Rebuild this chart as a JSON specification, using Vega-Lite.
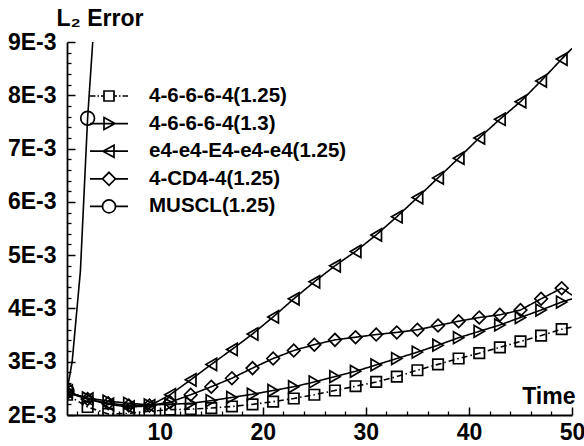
{
  "$schema": "https://vega.github.io/schema/vega-lite/v6.json",
  "width": 505,
  "height": 373,
  "autosize": {"type": "none"},
  "padding": {"left": 67, "top": 42, "right": 12, "bottom": 31},
  "background": "white",
  "config": {"view": {"stroke": null}, "font": "Liberation Sans"},
  "datasets": {
    "err": [
      {"series": "4-6-6-6-4(1.25)", "t": 1, "err": 0.00238},
      {"series": "4-6-6-6-4(1.25)", "t": 3, "err": 0.00215},
      {"series": "4-6-6-6-4(1.25)", "t": 5, "err": 0.00202},
      {"series": "4-6-6-6-4(1.25)", "t": 7, "err": 0.00203},
      {"series": "4-6-6-6-4(1.25)", "t": 9, "err": 0.00207},
      {"series": "4-6-6-6-4(1.25)", "t": 11, "err": 0.0021},
      {"series": "4-6-6-6-4(1.25)", "t": 13, "err": 0.00211},
      {"series": "4-6-6-6-4(1.25)", "t": 15, "err": 0.00213},
      {"series": "4-6-6-6-4(1.25)", "t": 17, "err": 0.00216},
      {"series": "4-6-6-6-4(1.25)", "t": 19, "err": 0.0022},
      {"series": "4-6-6-6-4(1.25)", "t": 21, "err": 0.00225},
      {"series": "4-6-6-6-4(1.25)", "t": 23, "err": 0.00231},
      {"series": "4-6-6-6-4(1.25)", "t": 25, "err": 0.00238},
      {"series": "4-6-6-6-4(1.25)", "t": 27, "err": 0.00246},
      {"series": "4-6-6-6-4(1.25)", "t": 29, "err": 0.00254},
      {"series": "4-6-6-6-4(1.25)", "t": 31, "err": 0.00262},
      {"series": "4-6-6-6-4(1.25)", "t": 33, "err": 0.00272},
      {"series": "4-6-6-6-4(1.25)", "t": 35, "err": 0.00284},
      {"series": "4-6-6-6-4(1.25)", "t": 37, "err": 0.00295},
      {"series": "4-6-6-6-4(1.25)", "t": 39, "err": 0.00306},
      {"series": "4-6-6-6-4(1.25)", "t": 41, "err": 0.00316},
      {"series": "4-6-6-6-4(1.25)", "t": 43, "err": 0.00327},
      {"series": "4-6-6-6-4(1.25)", "t": 45, "err": 0.00338},
      {"series": "4-6-6-6-4(1.25)", "t": 47, "err": 0.00349},
      {"series": "4-6-6-6-4(1.25)", "t": 49, "err": 0.00361},
      {"series": "4-6-6-6-4(1.25)", "t": 50, "err": 0.00365},
      {"series": "4-6-6-6-4(1.3)", "t": 1, "err": 0.00242},
      {"series": "4-6-6-6-4(1.3)", "t": 3, "err": 0.00232},
      {"series": "4-6-6-6-4(1.3)", "t": 5, "err": 0.00226},
      {"series": "4-6-6-6-4(1.3)", "t": 7, "err": 0.00222},
      {"series": "4-6-6-6-4(1.3)", "t": 9, "err": 0.00219},
      {"series": "4-6-6-6-4(1.3)", "t": 11, "err": 0.0022},
      {"series": "4-6-6-6-4(1.3)", "t": 13, "err": 0.00222},
      {"series": "4-6-6-6-4(1.3)", "t": 15, "err": 0.00227},
      {"series": "4-6-6-6-4(1.3)", "t": 17, "err": 0.00233},
      {"series": "4-6-6-6-4(1.3)", "t": 19, "err": 0.00239},
      {"series": "4-6-6-6-4(1.3)", "t": 21, "err": 0.00246},
      {"series": "4-6-6-6-4(1.3)", "t": 23, "err": 0.00253},
      {"series": "4-6-6-6-4(1.3)", "t": 25, "err": 0.00262},
      {"series": "4-6-6-6-4(1.3)", "t": 27, "err": 0.00272},
      {"series": "4-6-6-6-4(1.3)", "t": 29, "err": 0.00282},
      {"series": "4-6-6-6-4(1.3)", "t": 31, "err": 0.00294},
      {"series": "4-6-6-6-4(1.3)", "t": 33, "err": 0.00306},
      {"series": "4-6-6-6-4(1.3)", "t": 35, "err": 0.00318},
      {"series": "4-6-6-6-4(1.3)", "t": 37, "err": 0.00331},
      {"series": "4-6-6-6-4(1.3)", "t": 39, "err": 0.00345},
      {"series": "4-6-6-6-4(1.3)", "t": 41, "err": 0.00357},
      {"series": "4-6-6-6-4(1.3)", "t": 43, "err": 0.00369},
      {"series": "4-6-6-6-4(1.3)", "t": 45, "err": 0.00383},
      {"series": "4-6-6-6-4(1.3)", "t": 47, "err": 0.00397},
      {"series": "4-6-6-6-4(1.3)", "t": 49, "err": 0.00412},
      {"series": "4-6-6-6-4(1.3)", "t": 50, "err": 0.00418},
      {"series": "e4-e4-E4-e4-e4(1.25)", "t": 1, "err": 0.00245},
      {"series": "e4-e4-E4-e4-e4(1.25)", "t": 3, "err": 0.0023},
      {"series": "e4-e4-E4-e4-e4(1.25)", "t": 5, "err": 0.0022},
      {"series": "e4-e4-E4-e4-e4(1.25)", "t": 7, "err": 0.00215},
      {"series": "e4-e4-E4-e4-e4(1.25)", "t": 9, "err": 0.00217},
      {"series": "e4-e4-E4-e4-e4(1.25)", "t": 11, "err": 0.00238},
      {"series": "e4-e4-E4-e4-e4(1.25)", "t": 13, "err": 0.00266},
      {"series": "e4-e4-E4-e4-e4(1.25)", "t": 15, "err": 0.00295},
      {"series": "e4-e4-E4-e4-e4(1.25)", "t": 17, "err": 0.00323},
      {"series": "e4-e4-E4-e4-e4(1.25)", "t": 19, "err": 0.00352},
      {"series": "e4-e4-E4-e4-e4(1.25)", "t": 21, "err": 0.00384},
      {"series": "e4-e4-E4-e4-e4(1.25)", "t": 23, "err": 0.00418},
      {"series": "e4-e4-E4-e4-e4(1.25)", "t": 25, "err": 0.0045},
      {"series": "e4-e4-E4-e4-e4(1.25)", "t": 27, "err": 0.0048},
      {"series": "e4-e4-E4-e4-e4(1.25)", "t": 29, "err": 0.00507},
      {"series": "e4-e4-E4-e4-e4(1.25)", "t": 31, "err": 0.00538},
      {"series": "e4-e4-E4-e4-e4(1.25)", "t": 33, "err": 0.00572},
      {"series": "e4-e4-E4-e4-e4(1.25)", "t": 35, "err": 0.00608},
      {"series": "e4-e4-E4-e4-e4(1.25)", "t": 37, "err": 0.00645},
      {"series": "e4-e4-E4-e4-e4(1.25)", "t": 39, "err": 0.00682},
      {"series": "e4-e4-E4-e4-e4(1.25)", "t": 41, "err": 0.0072},
      {"series": "e4-e4-E4-e4-e4(1.25)", "t": 43, "err": 0.00755},
      {"series": "e4-e4-E4-e4-e4(1.25)", "t": 45, "err": 0.00788},
      {"series": "e4-e4-E4-e4-e4(1.25)", "t": 47, "err": 0.00827},
      {"series": "e4-e4-E4-e4-e4(1.25)", "t": 49, "err": 0.00868},
      {"series": "e4-e4-E4-e4-e4(1.25)", "t": 50, "err": 0.00888},
      {"series": "4-CD4-4(1.25)", "t": 1, "err": 0.00242},
      {"series": "4-CD4-4(1.25)", "t": 3, "err": 0.0023},
      {"series": "4-CD4-4(1.25)", "t": 5, "err": 0.00222},
      {"series": "4-CD4-4(1.25)", "t": 7, "err": 0.00218},
      {"series": "4-CD4-4(1.25)", "t": 9, "err": 0.00218},
      {"series": "4-CD4-4(1.25)", "t": 11, "err": 0.00224},
      {"series": "4-CD4-4(1.25)", "t": 13, "err": 0.00238},
      {"series": "4-CD4-4(1.25)", "t": 15, "err": 0.00253},
      {"series": "4-CD4-4(1.25)", "t": 17, "err": 0.00269},
      {"series": "4-CD4-4(1.25)", "t": 19, "err": 0.00288},
      {"series": "4-CD4-4(1.25)", "t": 21, "err": 0.00306},
      {"series": "4-CD4-4(1.25)", "t": 23, "err": 0.00321},
      {"series": "4-CD4-4(1.25)", "t": 25, "err": 0.00332},
      {"series": "4-CD4-4(1.25)", "t": 27, "err": 0.00341},
      {"series": "4-CD4-4(1.25)", "t": 29, "err": 0.00346},
      {"series": "4-CD4-4(1.25)", "t": 31, "err": 0.00351},
      {"series": "4-CD4-4(1.25)", "t": 33, "err": 0.00355},
      {"series": "4-CD4-4(1.25)", "t": 35, "err": 0.0036},
      {"series": "4-CD4-4(1.25)", "t": 37, "err": 0.00368},
      {"series": "4-CD4-4(1.25)", "t": 39, "err": 0.00376},
      {"series": "4-CD4-4(1.25)", "t": 41, "err": 0.00383},
      {"series": "4-CD4-4(1.25)", "t": 43, "err": 0.00388},
      {"series": "4-CD4-4(1.25)", "t": 45, "err": 0.00397},
      {"series": "4-CD4-4(1.25)", "t": 47, "err": 0.00418},
      {"series": "4-CD4-4(1.25)", "t": 49, "err": 0.00438},
      {"series": "4-CD4-4(1.25)", "t": 50, "err": 0.00425},
      {"series": "MUSCL(1.25)", "t": 1, "err": 0.00245},
      {"series": "MUSCL(1.25)", "t": 1.5, "err": 0.003},
      {"series": "MUSCL(1.25)", "t": 2.3, "err": 0.0047},
      {"series": "MUSCL(1.25)", "t": 3, "err": 0.00757},
      {"series": "MUSCL(1.25)", "t": 3.55, "err": 0.00915}
    ]
  },
  "data": {"name": "err"},
  "layer": [
    {
      "mark": {"type": "line", "stroke": "black", "strokeWidth": 1.6, "clip": true},
      "encoding": {
        "x": {"field": "t", "type": "quantitative", "scale": {"domain": [1, 50], "nice": false, "zero": false},
          "axis": {"orient": "bottom", "values": [10, 20, 30, 40, 50], "tickSize": -8, "tickWidth": 1.5, "tickColor": "black",
            "domainColor": "black", "domainWidth": 1.8, "grid": false,
            "labelFont": "Liberation Sans", "labelFontSize": 23, "labelFontWeight": "bold", "labelColor": "black", "labelPadding": 14, "labelFlush": false,
            "title": "Time", "titleFont": "Liberation Sans", "titleFontSize": 23, "titleFontWeight": "bold", "titleColor": "black",
            "titleAnchor": null, "titleAlign": "right", "titleBaseline": "alphabetic", "titleX": 508, "titleY": -12}},
        "y": {"field": "err", "type": "quantitative", "scale": {"domain": [0.002, 0.009], "nice": false, "zero": false},
          "axis": {"orient": "left", "values": [0.002, 0.003, 0.004, 0.005, 0.006, 0.007, 0.008, 0.009], "tickSize": -8, "tickWidth": 1.5, "tickColor": "black",
            "domainColor": "black", "domainWidth": 1.8, "grid": false,
            "labelExpr": "round(datum.value*1000) + 'E-3'",
            "labelFont": "Liberation Sans", "labelFontSize": 23, "labelFontWeight": "bold", "labelColor": "black", "labelPadding": 19, "labelFlush": false,
            "title": "L₂ Error", "titleFont": "Liberation Sans", "titleFontSize": 23, "titleFontWeight": "bold", "titleColor": "black",
            "titleAngle": 0, "titleAnchor": null, "titleAlign": "left", "titleBaseline": "alphabetic", "titleX": -11, "titleY": -17}},
        "detail": {"field": "series", "type": "nominal"},
        "strokeDash": {"field": "series", "type": "nominal",
          "scale": {"domain": ["4-6-6-6-4(1.25)", "4-6-6-6-4(1.3)", "e4-e4-E4-e4-e4(1.25)", "4-CD4-4(1.25)", "MUSCL(1.25)"],
            "range": [[6, 3, 1.5, 3], [1, 0], [1, 0], [1, 0], [1, 0]]}, "legend": null}
      }
    },
    {
      "transform": [{"filter": "datum.t % 2 == 1"}],
      "mark": {"type": "point", "filled": false, "stroke": "black", "strokeWidth": 1.7, "opacity": 1, "clip": true},
      "encoding": {
        "x": {"field": "t", "type": "quantitative", "axis": null},
        "y": {"field": "err", "type": "quantitative", "axis": null},
        "shape": {"field": "series", "type": "nominal",
          "scale": {"domain": ["4-6-6-6-4(1.25)", "4-6-6-6-4(1.3)", "e4-e4-E4-e4-e4(1.25)", "4-CD4-4(1.25)", "MUSCL(1.25)"],
            "range": ["square", "triangle-right", "triangle-left", "diamond", "circle"]}, "legend": null},
        "size": {"field": "series", "type": "nominal",
          "scale": {"type": "ordinal", "domain": ["4-6-6-6-4(1.25)", "4-6-6-6-4(1.3)", "e4-e4-E4-e4-e4(1.25)", "4-CD4-4(1.25)", "MUSCL(1.25)"],
            "range": [110, 140, 150, 160, 190]}, "legend": null}
      }
    },
    {
      "transform": [{"filter": "false"}],
      "mark": {"type": "point", "filled": false, "stroke": "black", "strokeWidth": 1.7, "size": 400, "opacity": 1},
      "encoding": {
        "x": {"field": "t", "type": "quantitative", "axis": null},
        "y": {"field": "err", "type": "quantitative", "axis": null},
        "shape": {"field": "series", "type": "nominal",
          "scale": {"domain": ["4-6-6-6-4(1.25)", "4-6-6-6-4(1.3)", "e4-e4-E4-e4-e4(1.25)", "4-CD4-4(1.25)", "MUSCL(1.25)"],
            "range": [
              "M-1.9,0H-1.35M-1.15,0H-1M-0.8,0H-0.5M0.5,0H0.8M1,0H1.15M1.35,0H1.9M-0.5,-0.5H0.5V0.5H-0.5Z",
              "M-1.9,0H1.9M-0.5,-0.6L0.6,0L-0.5,0.6Z",
              "M-1.9,0H1.9M0.5,-0.6L-0.6,0L0.5,0.6Z",
              "M-1.9,0H-0.65M0.65,0H1.9M0,-0.65L0.65,0L0,0.65L-0.65,0Z",
              "M-1.9,0H-0.65M0.65,0H1.9M0.65,0A0.65,0.65 0 1 1 -0.65,0A0.65,0.65 0 1 1 0.65,0Z"
            ]},
          "legend": {"title": null, "orient": "none", "legendX": 31, "legendY": 43, "padding": 0,
            "symbolSize": 400, "symbolStrokeWidth": 1.7, "symbolStrokeColor": "black", "symbolFillColor": "transparent",
            "labelFont": "Liberation Sans", "labelFontSize": 20.5, "labelFontWeight": "bold", "labelColor": "black",
            "labelOffset": 29, "rowPadding": 5.6, "labelLimit": 400}}
      }
    },
    {
      "transform": [{"filter": "false"}],
      "mark": {"type": "point", "opacity": 0},
      "encoding": {
        "x": {"field": "t", "type": "quantitative",
          "axis": {"orient": "bottom", "values": [2, 4, 6, 8, 12, 14, 16, 18, 22, 24, 26, 28, 32, 34, 36, 38, 42, 44, 46, 48],
            "tickSize": -4, "tickWidth": 1.3, "tickColor": "black", "domain": false, "labels": false, "grid": false, "title": null}},
        "y": {"field": "err", "type": "quantitative",
          "axis": {"orient": "left", "values": [0.0022, 0.0024, 0.0026, 0.0028, 0.0032, 0.0034, 0.0036, 0.0038, 0.0042, 0.0044, 0.0046, 0.0048, 0.0052, 0.0054, 0.0056, 0.0058, 0.0062, 0.0064, 0.0066, 0.0068, 0.0072, 0.0074, 0.0076, 0.0078, 0.0082, 0.0084, 0.0086, 0.0088],
            "tickSize": -4, "tickWidth": 1.3, "tickColor": "black", "domain": false, "labels": false, "grid": false, "title": null}}
      }
    }
  ],
  "resolve": {"scale": {"shape": "independent"}, "axis": {"x": "independent", "y": "independent"}}
}
